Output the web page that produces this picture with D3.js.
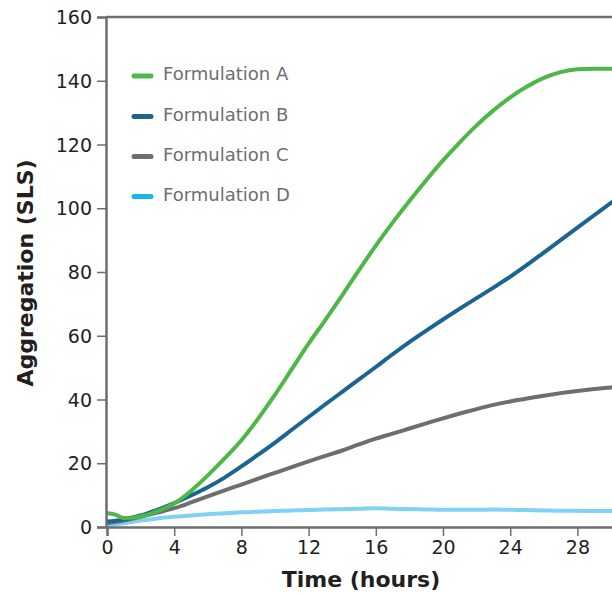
<!DOCTYPE html>
<meta charset="utf-8">
<script src="https://d3js.org/d3.v7.min.js"></script>
<style>
  body { margin: 0; background: #fff; }
  text { font-family: "DejaVu Sans", sans-serif; }
</style>
<div id="chart"></div>
<script>
// time points (hours) and readings for each formulation
var hours = [0, 0.5, 1, 2, 3, 4, 5, 6, 7, 8, 9, 10, 11, 12, 13, 14, 15, 16, 17, 18, 19, 20,
             21, 22, 23, 24, 25, 26, 27, 28, 29, 30, 30.6];
var formA = [4.3, 3.9, 2.8, 3.3, 5.0, 7.4, 11.3, 16.2, 21.5, 27.2, 34, 41.5, 49.5, 57.5, 65, 72.7, 80.6, 88.3,
             95.5, 102.3, 108.8, 115, 120.7, 126, 130.7, 134.8, 138.2, 140.9, 142.7, 143.6, 143.8, 143.8, 143.8];
var formB = [1.7, 2.0, 2.4, 3.6, 5.4, 7.5, 9.9, 12.5, 15.5, 19.0, 22.7, 26.5, 30.5, 34.5, 38.5, 42.4, 46.3,
             50.2, 54.2, 58, 61.6, 65.1, 68.5, 71.8, 75.1, 78.5, 82.2, 86.1, 90, 93.9, 97.8, 101.7, 104];
var formC = [1.2, 1.6, 2.0, 3.2, 4.5, 5.9, 7.7, 9.6, 11.5, 13.3, 15.2, 17, 18.8, 20.6, 22.3, 24, 25.9,
             27.7, 29.3, 30.9, 32.5, 34.1, 35.6, 37, 38.3, 39.4, 40.3, 41.2, 42, 42.7, 43.3, 43.8, 44];
var formD = [0.3, 0.8, 1.2, 2.0, 2.7, 3.2, 3.6, 4.0, 4.3, 4.6, 4.8, 5.0, 5.2, 5.3, 5.5, 5.6, 5.7, 5.9,
             5.7, 5.6, 5.5, 5.4, 5.4, 5.4, 5.5, 5.4, 5.3, 5.2, 5.1, 5.1, 5.0, 5.0, 5.0];
var names = ["Formulation A", "Formulation B", "Formulation C", "Formulation D"];
var xTicks = [0, 4, 8, 12, 16, 20, 24, 28];
var yTicks = [0, 20, 40, 60, 80, 100, 120, 140, 160];

var W = 612, H = 594;
var plotLeft = 106, plotTop = 17, plotBottom = 527;

var svg = d3.select("#chart").append("svg")
    .attr("width", W)
    .attr("height", H);

var x = d3.scaleLinear().domain([0, 32]).range([plotLeft + 1, plotLeft + 1 + 16.8 * 32]);
var y = d3.scaleLinear().domain([0, 160]).range([plotBottom, plotTop]);

var axisColor = "#6d6e71";
var lineColors = ["#4db748", "#1a6591", "#6d6e71", "#7fd2f5"];
var keyColors = ["#4db748", "#1a6591", "#6d6e71", "#1cb5e9"];

// frame top line
svg.append("line")
    .attr("x1", plotLeft).attr("x2", W + 10)
    .attr("y1", plotTop).attr("y2", plotTop)
    .attr("stroke", axisColor).attr("stroke-width", 2.5);

// series
var series = [formA, formB, formC, formD];
var line = d3.line()
    .x(function (d, i) { return x(hours[i]); })
    .y(function (d) { return y(d); })
    .curve(d3.curveMonotoneX);

// draw D first so the others sit on top
[3, 2, 1, 0].forEach(function (k) {
  svg.append("path")
      .datum(series[k])
      .attr("fill", "none")
      .attr("stroke", lineColors[k])
      .attr("stroke-width", 4)
      .attr("d", line);
});

// Y axis
var yAxis = svg.append("g")
    .attr("transform", "translate(" + plotLeft + ",0)")
    .call(d3.axisLeft(y).tickValues(yTicks).tickSize(9).tickPadding(5));
// X axis
var xAxis = svg.append("g")
    .attr("transform", "translate(0," + plotBottom + ")")
    .call(d3.axisBottom(x).tickValues(xTicks).tickSize(9).tickPadding(5));

[xAxis, yAxis].forEach(function (a) {
  a.select(".domain").attr("stroke", axisColor).attr("stroke-width", 2.5);
  a.selectAll(".tick line").attr("stroke", axisColor).attr("stroke-width", 1.5);
  a.selectAll(".tick text")
      .attr("fill", "#231f20")
      .style("font-size", "19px")
      .style("font-family", "DejaVu Sans");
});
yAxis.selectAll(".tick text").attr("dy", "0.35em");

// axis titles
svg.append("text")
    .attr("x", 361)
    .attr("y", 587)
    .attr("text-anchor", "middle")
    .attr("fill", "#231f20")
    .style("font-size", "22px")
    .style("font-weight", "bold")
    .text("Time (hours)");

svg.append("text")
    .attr("transform", "translate(33,273) rotate(-90)")
    .attr("text-anchor", "middle")
    .attr("fill", "#231f20")
    .style("font-size", "22px")
    .style("font-weight", "bold")
    .text("Aggregation (SLS)");

// legend
var legY = [76, 116.5, 156.5, 196.5];
names.forEach(function (n, i) {
  svg.append("line")
      .attr("x1", 134).attr("x2", 151)
      .attr("y1", legY[i]).attr("y2", legY[i])
      .attr("stroke", keyColors[i])
      .attr("stroke-width", 5)
      .attr("stroke-linecap", "round");
  svg.append("text")
      .attr("x", 163)
      .attr("y", legY[i] - 1)
      .attr("dominant-baseline", "middle")
      .attr("fill", "#6d6e71")
      .style("font-size", "18px")
      .text(n);
});
</script>
